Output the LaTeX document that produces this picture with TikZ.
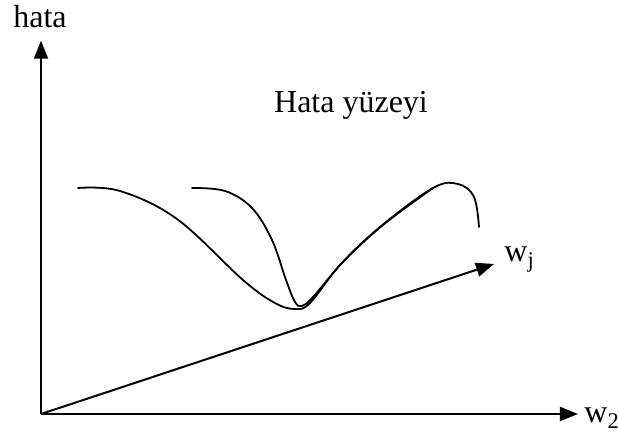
\documentclass[tikz,border=0pt]{standalone}
\usepackage{fontspec}
\setmainfont{Liberation Serif}
\usetikzlibrary{arrows.meta,positioning}

\begin{document}
\begin{tikzpicture}[
  x=0.5pt,y=-0.5pt,
  font=\fontsize{16}{19}\selectfont,
  axis/.style={-{Triangle[length=9pt,width=7pt]},line width=1pt},
  curve/.style={line width=0.9pt,line join=round,line cap=round},
  lbl/.style={inner sep=0pt},
]
\useasboundingbox (0,0) rectangle (618,437);

% axes
\coordinate (o) at (41,414);
\node[lbl,anchor=base] (hata) at (40,28) {hata};
\node[lbl,anchor=base west] (w2) at (584,423) {w\textsubscript{2}};
\coordinate (jtip) at (494,264);
\node[lbl,anchor=base west] (wj) at (504,262) {w\textsubscript{j}};

\draw[axis,shorten >=6pt] (o) -- (o |- hata.south);
\draw[axis,shorten >=3pt] (o) -- (o -| w2.west);
\draw[axis] (o) -- (jtip);

% title
\node[lbl,anchor=base] (title) at (351,113) {Hata yüzeyi};

% error surface, two cuts
\draw[curve] plot[smooth,tension=0.6] coordinates {
  (78,188) (120,191) (177,219) (243,280) (275,303) (295,309) (310,303)
  (340,265) (380,227) (433,188) (458,184) (474,197) (479,227)};
\draw[curve] plot[smooth,tension=0.6] coordinates {
  (192,188) (225,191) (252,208) (272,240) (286,280) (295,302) (302,306)
  (313,297) (343,262) (383,225) (433,188)};
\end{tikzpicture}
\end{document}
